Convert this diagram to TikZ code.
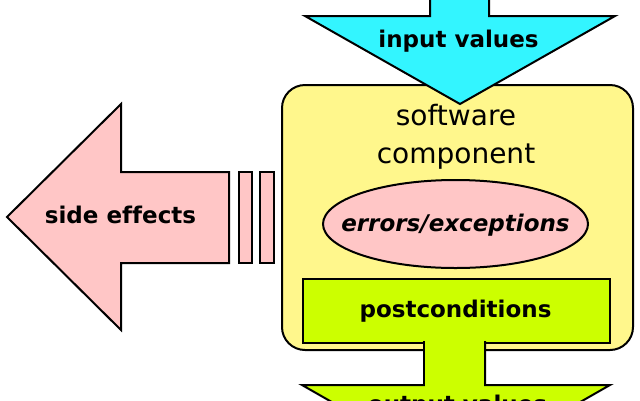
\documentclass[tikz,border=0pt]{standalone}
\usepackage{fontspec}
\setmainfont{DejaVu Sans}[Ligatures={NoCommon}]
\usetikzlibrary{shapes.geometric}
\definecolor{incyan}{RGB}{51,245,255}
\definecolor{compyellow}{RGB}{255,247,140}
\definecolor{errpink}{RGB}{255,198,198}
\definecolor{postlime}{RGB}{204,255,0}
\tikzset{
  shapeline/.style={draw=black, line width=2pt, line join=miter},
  lbl/.style={anchor=base, inner sep=0pt, font=\fontsize{23}{27}\selectfont\bfseries},
  complbl/.style={anchor=base, inner sep=0pt, font=\fontsize{28}{34}\selectfont}
}
\begin{document}
\begin{tikzpicture}[x=1pt,y=-1pt]
\useasboundingbox (0,0) rectangle (640,400);
\clip (0,0) rectangle (640,400);
% software component box
\draw[shapeline, fill=compyellow, rounded corners=23pt] (282,85) rectangle (633,350);
% input arrow
\draw[shapeline, fill=incyan] (430,-20) -- (489,-20) -- (489,16) -- (615,16) -- (460,104) -- (305,16) -- (430,16) -- cycle;
% labels of the component
\node[complbl] (sw) at (456,125) {software};
\node[complbl] (comp) at (456,163) {component};
% errors ellipse
\node[shapeline, fill=errpink, ellipse, minimum width=265pt, minimum height=88pt, inner sep=0pt] (err) at (455.5,224) {};
\node[lbl, font=\fontsize{23}{27}\selectfont\bfseries\itshape] (errt) at (455.5,231) {errors/exceptions};
% postconditions
\draw[shapeline, fill=postlime] (303,279) rectangle (610,343);
\node[lbl] (post) at (455.5,317) {postconditions};
% output arrow
\draw[shapeline, fill=postlime] (424,341) -- (424,385) -- (302,385) -- (456,473) -- (610,385) -- (485,385) -- (485,341);
\fill[postlime] (425,337) rectangle (484,386);
\node[lbl] (outv) at (457.5,412) {output values};
\node[lbl] (inv) at (458.5,47) {input values};
% side effects arrow
\draw[shapeline, fill=errpink] (229,172) -- (121,172) -- (121,104) -- (7,217) -- (121,330) -- (121,263) -- (229,263) -- cycle;
\node[lbl] (side) at (120.5,223) {side effects};
\draw[shapeline, fill=errpink] (239,172) rectangle (252,263);
\draw[shapeline, fill=errpink] (260,172) rectangle (274,263);
\end{tikzpicture}
\end{document}
